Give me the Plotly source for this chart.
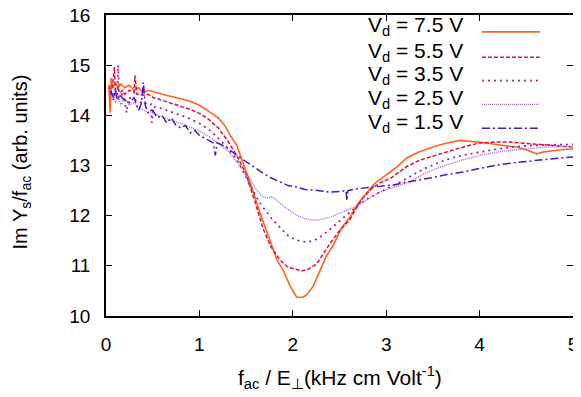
import plotly.graph_objects as go

# ---- data ----
x_75 = [0.03,0.045,0.055,0.07,0.1,0.13,0.16,0.2,0.25,0.3,0.35,0.4,0.45,0.5,0.55,0.6,0.7,0.8,0.9,1.0,1.1,1.2,1.27,1.33,1.4,1.47,1.55,1.65,1.76,1.83,1.9,1.97,2.04,2.1,2.15,2.22,2.29,2.36,2.43,2.52,2.61,2.7,2.79,2.88,2.97,3.1,3.22,3.35,3.5,3.65,3.79,3.95,4.08,4.25,4.4,4.55,4.61,4.68,4.8,4.9,5.0]
y_75 = [14.55,14.05,14.75,14.55,14.65,14.55,14.62,14.55,14.6,14.5,14.55,14.45,14.5,14.48,14.45,14.42,14.38,14.33,14.28,14.2,14.08,13.95,13.8,13.6,13.4,13.05,12.62,12.05,11.5,11.12,10.9,10.6,10.38,10.37,10.42,10.6,10.9,11.2,11.4,11.75,11.97,12.25,12.45,12.65,12.77,12.95,13.15,13.27,13.37,13.45,13.5,13.48,13.45,13.4,13.37,13.28,13.23,13.27,13.3,13.32,13.33]

x_55 = [0.03,0.05,0.07,0.09,0.1,0.12,0.15,0.18,0.2,0.25,0.3,0.31,0.33,0.4,0.45,0.5,0.55,0.6,0.65,0.7,0.8,0.9,1.0,1.1,1.2,1.3,1.4,1.5,1.6,1.68,1.76,1.86,1.95,2.04,2.1,2.15,2.2,2.26,2.33,2.4,2.5,2.61,2.68,2.75,2.85,2.93,3.05,3.22,3.35,3.47,3.6,3.72,3.85,4.0,4.19,4.3,4.43,4.6,4.72,4.85,5.0]
y_55 = [14.6,14.45,14.6,14.96,14.5,14.55,14.45,14.5,14.42,14.5,14.45,14.8,14.42,14.4,14.42,14.36,14.33,14.3,14.27,14.24,14.18,14.12,14.04,13.92,13.75,13.5,13.2,12.82,12.25,11.75,11.4,11.12,10.97,10.92,10.9,10.92,10.97,11.05,11.25,11.45,11.7,11.92,12.15,12.35,12.55,12.65,12.75,12.98,13.1,13.17,13.25,13.31,13.38,13.45,13.47,13.47,13.45,13.43,13.41,13.39,13.37]

x_35 = [0.05,0.08,0.1,0.12,0.13,0.14,0.17,0.2,0.22,0.24,0.3,0.35,0.4,0.45,0.48,0.49,0.51,0.6,0.65,0.7,0.8,0.9,1.0,1.1,1.2,1.3,1.4,1.54,1.6,1.68,1.77,1.86,1.95,2.04,2.1,2.15,2.22,2.29,2.38,2.47,2.55,2.64,2.73,2.83,2.93,3.04,3.15,3.25,3.4,3.55,3.65,3.8,4.0,4.2,4.36,4.55,4.72,4.85,5.0]
y_35 = [14.45,14.3,14.5,14.4,15.0,14.35,14.42,14.3,14.05,14.35,14.32,14.25,14.28,14.2,14.22,13.85,14.17,14.14,14.1,14.07,14.0,13.93,13.84,13.72,13.55,13.35,13.12,12.62,12.4,12.17,11.95,11.77,11.6,11.51,11.48,11.47,11.5,11.57,11.7,11.85,11.97,12.11,12.25,12.37,12.47,12.57,12.67,12.77,12.93,13.05,13.12,13.2,13.27,13.33,13.37,13.4,13.41,13.42,13.42]

x_25 = [0.05,0.08,0.1,0.13,0.16,0.2,0.25,0.3,0.35,0.4,0.5,0.6,0.7,0.8,0.9,1.0,1.1,1.2,1.3,1.4,1.54,1.6,1.66,1.72,1.78,1.86,1.95,2.04,2.13,2.22,2.3,2.4,2.5,2.58,2.67,2.75,2.85,2.93,3.1,3.25,3.4,3.55,3.65,3.8,4.0,4.2,4.36,4.55,4.72,4.85,5.0]
y_25 = [14.35,14.45,14.25,14.4,14.2,14.35,14.2,14.25,14.15,14.1,14.05,13.97,13.9,13.84,13.77,13.69,13.58,13.45,13.3,13.08,12.75,12.55,12.4,12.35,12.38,12.25,12.12,12.01,11.94,11.91,11.92,11.97,12.04,12.11,12.18,12.27,12.37,12.47,12.58,12.67,12.83,12.95,13.01,13.1,13.2,13.27,13.31,13.34,13.37,13.37,13.38]

x_15 = [0.05,0.08,0.1,0.12,0.15,0.2,0.25,0.3,0.35,0.38,0.4,0.42,0.45,0.5,0.55,0.6,0.65,0.7,0.75,0.8,0.85,0.9,0.95,1.0,1.05,1.1,1.15,1.17,1.19,1.25,1.3,1.4,1.5,1.6,1.68,1.77,1.86,1.95,2.04,2.13,2.22,2.3,2.4,2.5,2.57,2.58,2.59,2.66,2.75,2.85,2.93,3.1,3.22,3.35,3.47,3.65,3.82,4.0,4.19,4.35,4.54,4.75,5.0]
y_15 = [14.5,14.35,14.5,14.3,14.4,14.3,14.25,14.35,14.1,14.25,14.66,14.2,14.05,14.1,13.95,14.0,13.85,13.95,13.8,13.75,13.8,13.65,13.7,13.6,13.55,13.5,13.45,13.2,13.45,13.4,13.35,13.2,13.07,12.95,12.85,12.75,12.67,12.6,12.57,12.52,12.51,12.49,12.47,12.48,12.5,12.3,12.5,12.53,12.55,12.57,12.58,12.62,12.67,12.71,12.75,12.82,12.87,12.94,13.01,13.05,13.09,13.13,13.17]

labels = ["V<sub>d</sub> = 7.5 V", "V<sub>d</sub> = 5.5 V", "V<sub>d</sub> = 3.5 V",
          "V<sub>d</sub> = 2.5 V", "V<sub>d</sub> = 1.5 V"]
x_ticks = [0, 1, 2, 3, 4, 5]
y_ticks = [10, 11, 12, 13, 14, 15, 16]
x_title = "f<sub>ac</sub> / E<sub>⊥</sub>(kHz cm Volt<sup>-1</sup>)"
y_title = "Im Y<sub>s</sub>/f<sub>ac</sub> (arb. units)"

# ---- styles ----
colors = ["#ff6418", "#e4103a", "#a4249c", "#a45ce0", "#4a14c8"]
dashes = ["solid", "4px,2px", "2px,4px", "1px,1px", "8px,3px,2px,3px"]
widths = [1.6, 1.5, 1.8, 1.3, 1.5]

series = [(x_75, y_75), (x_55, y_55), (x_35, y_35), (x_25, y_25), (x_15, y_15)]

FONT = "Liberation Sans, Arial, Helvetica, sans-serif"

fig = go.Figure()
for (xs, ys), lab, c, d, w in zip(series, labels, colors, dashes, widths):
    fig.add_trace(go.Scatter(x=xs, y=ys, mode="lines", name=lab,
                             line=dict(color=c, dash=d, width=w),
                             showlegend=False))

# manual legend (text left, line sample right), gnuplot style
leg_y = [0.944, 0.860, 0.782, 0.703, 0.624]
for lab, c, d, w, yy in zip(labels, colors, dashes, widths, leg_y):
    fig.add_annotation(xref="paper", yref="paper", x=0.769, y=yy + 0.018,
                       text=lab, showarrow=False, xanchor="right", yanchor="middle",
                       font=dict(family=FONT, size=21, color="black"))
    fig.add_shape(type="line", xref="paper", yref="paper",
                  x0=0.805, x1=0.929, y0=yy, y1=yy,
                  line=dict(color=c, dash=d, width=w))

# axis titles as annotations for exact placement
fig.add_annotation(xref="paper", yref="paper", x=0.5, y=-0.205, text=x_title,
                   showarrow=False, xanchor="center", yanchor="middle",
                   font=dict(family=FONT, size=21, color="black"))
fig.add_annotation(xref="paper", yref="paper", x=-0.182, y=0.51, text=y_title,
                   showarrow=False, xanchor="center", yanchor="middle", textangle=-90,
                   font=dict(family=FONT, size=20, color="black"))

axis_common = dict(showgrid=False, zeroline=False, showline=True, linecolor="black",
                   linewidth=1.5, mirror="ticks", ticks="inside", ticklen=6,
                   tickwidth=1.2, tickcolor="black", automargin=False,
                   ticklabelstandoff=10, ticklabeloverflow="allow",
                   tickfont=dict(family=FONT, size=19, color="black"))

fig.update_xaxes(range=[0, 5], tickvals=x_ticks, ticktext=[str(v) for v in x_ticks],
                 **axis_common)
fig.update_yaxes(range=[10, 16], tickvals=y_ticks, ticktext=[str(v) for v in y_ticks],
                 **axis_common)

# the page body adds an 8px margin, so the figure is 8px smaller on each axis
fig.update_layout(width=573, height=389,
                  margin=dict(l=98, r=8, t=7, b=81),
                  paper_bgcolor="white", plot_bgcolor="white",
                  font=dict(family=FONT, color="black"))

fig.write_html("out.html")
